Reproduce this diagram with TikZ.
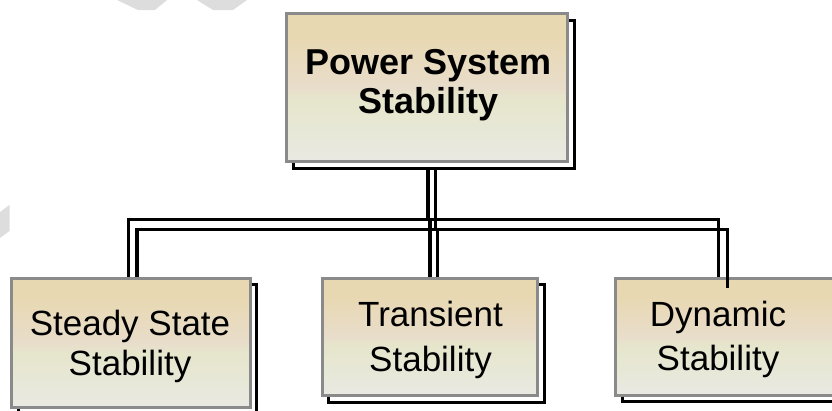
\documentclass[tikz,border=0pt]{standalone}
\usepackage{fontspec}
\setmainfont{Liberation Sans}
\pgfdeclarelayer{back}
\pgfsetlayers{back,main}
\definecolor{cA}{HTML}{E8D8B2}
\definecolor{cB}{HTML}{E8DDCB}
\definecolor{cC}{HTML}{E6E6CC}
\definecolor{cD}{HTML}{E9E9E3}
\definecolor{boxgrey}{HTML}{8A8A8A}
\definecolor{wmgrey}{HTML}{DDDDDD}
\pgfdeclareverticalshading{boxgrad}{100bp}{color(0bp)=(cD); color(25bp)=(cD); color(46bp)=(cC); color(50bp)=(cB); color(67bp)=(cA); color(75bp)=(cA); color(100bp)=(cA)}
\tikzset{
  box/.style={rectangle, draw=boxgrey, line width=3pt, shading=boxgrad, inner sep=0pt},
  shadowbox/.style={rectangle, draw=black, line width=3pt, fill=white, inner sep=0pt},
  conn/.style={draw=black, line width=3.5pt},
  toplbl/.style={align=center, inner sep=0pt, font=\bfseries\fontsize{36}{39}\selectfont},
  lbl/.style={align=center, inner sep=0pt},
  wm/.style={fill=wmgrey, draw=none}
}
\begin{document}
\begin{tikzpicture}[x=1pt,y=-1pt]
\useasboundingbox (0,0) rectangle (832,410);
\clip (0,0) rectangle (832,410);
% faint watermark fragments
\begin{pgfonlayer}{back}
\fill[wm] (117,0) -- (167,0) -- (155,10) -- (138,10) -- cycle;
\fill[wm] (197,0) -- (247,0) -- (233,10) -- (213,10) -- cycle;
\fill[wm] (0,212) -- (9.5,205) -- (9.5,231) -- (0,238) -- cycle;
\end{pgfonlayer}
% shadows
\node[shadowbox, minimum width=281pt, minimum height=148pt] (topsh) at (433.5,94) {};
\node[shadowbox, minimum width=238.7pt, minimum height=129.3pt] (steadysh) at (137.35,349.35) {};
\node[shadowbox, minimum width=215.6pt, minimum height=117.6pt] (transsh) at (436.5,343.5) {};
\node[shadowbox, minimum width=228pt, minimum height=117pt] (dynsh) at (736,343.2) {};
% boxes
\node[box, minimum width=281pt, minimum height=148pt] (top) at (427,87.5) {};
\node[box, minimum width=238.7pt, minimum height=129.3pt] (steady) at (130.85,342.85) {};
\node[box, minimum width=215.6pt, minimum height=117.6pt] (trans) at (430,337) {};
\node[box, minimum width=228pt, minimum height=117pt] (dyn) at (729.5,336.7) {};
% labels
\node[toplbl] (toptxt) at (428.5,85.4) {Power System\\Stability};
\node[lbl, font=\fontsize{35}{40}\selectfont] (steadytxt) at (130,346.1) {Steady State\\Stability};
\node[lbl, font=\fontsize{35}{45}\selectfont] (transtxt) at (430.5,340.3) {Transient\\Stability};
\node[lbl, font=\fontsize{35}{43.3}\selectfont] (dyntxt) at (718,339.5) {Dynamic\\Stability};
% connector coordinates
\coordinate (mT1) at (428,219.5);
\coordinate (mL) at (128.7,219.5);
\coordinate (mR) at (718.7,219.5);
\coordinate (mM) at (430,219.5);
\coordinate (sT1) at (435.5,229.5);
\coordinate (sL) at (137,229.5);
\coordinate (sR) at (727.5,229.5);
\coordinate (sM) at (437.5,229.5);
\begin{pgfonlayer}{back}
\draw[conn] (top.south -| mT1) -- (mT1);
\draw[conn] (steady.north -| mL) -- (mL) -- (mR) -- (dyn.north -| mR);
\draw[conn] (mM) -- (trans.north -| mM);
\draw[conn] (topsh.south -| sT1) -- (sT1);
\draw[conn] (steady.north -| sL) -- (sL) -- (sR) -- (dyn.north -| sR);
\draw[conn] (sM) -- (trans.north -| sM);
\end{pgfonlayer}
\draw[conn] (dyn.north -| sR) -- ++(0,11);
\end{tikzpicture}
\end{document}
